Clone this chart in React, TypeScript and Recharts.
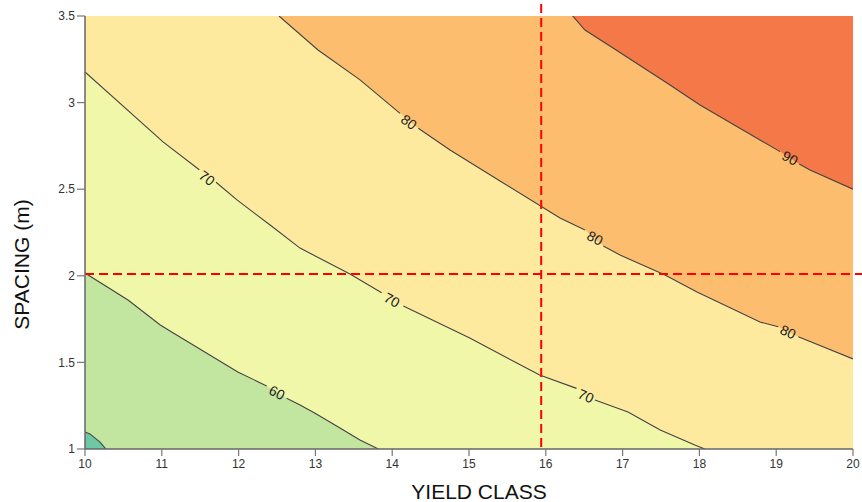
import { ComposedChart, Area, Line, Scatter, XAxis, YAxis, ReferenceLine, Label } from "recharts";

type Pt = { x: number; y: number | null };

const xTicks = [10, 11, 12, 13, 14, 15, 16, 17, 18, 19, 20];
const yTicks = [1, 1.5, 2, 2.5, 3, 3.5];

// contour lines; a null marks the gap left for a label
const contour55: Pt[] = [
  { x: 10, y: 1.098 },
  { x: 10.065, y: 1.087 },
  { x: 10.195, y: 1.04 },
  { x: 10.273, y: 1.0 },
];

const contour60: Pt[] = [
  { x: 10, y: 2.016 },
  { x: 10.56, y: 1.86 },
  { x: 10.98, y: 1.716 },
  { x: 11.15, y: 1.67 },
  { x: 11.99, y: 1.445 },
  { x: 12.366, y: 1.364 },
  { x: 12.5, y: null },
  { x: 12.625, y: 1.293 },
  { x: 12.8, y: 1.254 },
  { x: 12.99, y: 1.208 },
  { x: 13.32, y: 1.121 },
  { x: 13.58, y: 1.052 },
  { x: 13.82, y: 1.0 },
];

const contour70: Pt[] = [
  { x: 10, y: 3.177 },
  { x: 11.016, y: 2.773 },
  { x: 11.488, y: 2.612 },
  { x: 11.6, y: null },
  { x: 11.706, y: 2.54 },
  { x: 11.979, y: 2.438 },
  { x: 12.41, y: 2.293 },
  { x: 12.8, y: 2.16 },
  { x: 13.45, y: 2.01 },
  { x: 13.863, y: 1.902 },
  { x: 14.0, y: null },
  { x: 14.145, y: 1.826 },
  { x: 15.01, y: 1.641 },
  { x: 15.92, y: 1.427 },
  { x: 16.4, y: 1.35 },
  { x: 16.52, y: null },
  { x: 16.64, y: 1.283 },
  { x: 17.07, y: 1.214 },
  { x: 17.49, y: 1.11 },
  { x: 17.94, y: 1.023 },
  { x: 18.07, y: 1.0 },
];

const contour80: Pt[] = [
  { x: 12.526, y: 3.5 },
  { x: 13.034, y: 3.304 },
  { x: 13.581, y: 3.131 },
  { x: 14.102, y: 2.938 },
  { x: 14.22, y: null },
  { x: 14.34, y: 2.852 },
  { x: 14.753, y: 2.726 },
  { x: 15.404, y: 2.547 },
  { x: 16.185, y: 2.334 },
  { x: 16.51, y: 2.264 },
  { x: 16.64, y: null },
  { x: 16.749, y: 2.172 },
  { x: 16.966, y: 2.12 },
  { x: 17.552, y: 2.005 },
  { x: 17.969, y: 1.906 },
  { x: 18.789, y: 1.733 },
  { x: 19.027, y: 1.706 },
  { x: 19.15, y: null },
  { x: 19.288, y: 1.648 },
  { x: 20, y: 1.52 },
];

const contour90: Pt[] = [
  { x: 16.35, y: 3.5 },
  { x: 16.51, y: 3.419 },
  { x: 16.875, y: 3.315 },
  { x: 17.578, y: 3.113 },
  { x: 18.008, y: 2.986 },
  { x: 18.789, y: 2.784 },
  { x: 19.05, y: 2.717 },
  { x: 19.18, y: null },
  { x: 19.3, y: 2.645 },
  { x: 19.44, y: 2.611 },
  { x: 20, y: 2.5 },
];

const topLeft: Pt = { x: 10, y: 3.5 };
const topEdge: Pt[] = [topLeft, { x: 20, y: 3.5 }];

const contourLabels = [
  { x: 12.5, y: 1.326, angle: 27, text: "60" },
  { x: 11.589, y: 2.565, angle: 36, text: "70" },
  { x: 13.997, y: 1.86, angle: 28, text: "70" },
  { x: 16.523, y: 1.306, angle: 24, text: "70" },
  { x: 14.219, y: 2.888, angle: 36, text: "80" },
  { x: 16.641, y: 2.218, angle: 28, text: "80" },
  { x: 19.154, y: 1.676, angle: 24, text: "80" },
  { x: 19.18, y: 2.68, angle: 28, text: "90" },
];

const yieldClassMark = 15.94;
const spacingMark = 2.01;

const solid = (pts: Pt[]) => pts.filter((p) => p.y !== null);

// painted from the top band down, each one over the last
const bands = [
  { key: "b90", data: topEdge, fill: "#f57848" },
  { key: "b80", data: [topLeft, ...solid(contour90)], fill: "#fdbd6e" },
  { key: "b70", data: [topLeft, ...solid(contour80)], fill: "#feea9e" },
  { key: "b60", data: solid(contour70), fill: "#f1f7a8" },
  { key: "b55", data: solid(contour60), fill: "#c2e6a0" },
  { key: "b50", data: solid(contour55), fill: "#6ec8a5" },
];

const contours = [contour55, contour60, contour70, contour80, contour90];

const tickStyle = { fill: "#333", fontSize: 12 };

const ContourLabel = (props: any) => {
  const { cx, cy, payload } = props;
  if (cx == null || cy == null) return null;
  return (
    <text
      x={cx}
      y={cy}
      transform={`rotate(${payload.angle} ${cx} ${cy})`}
      textAnchor="middle"
      dominantBaseline="central"
      fontSize={14}
      fill="#222"
    >
      {payload.text}
    </text>
  );
};

const SpacingTitle = (props: any) => {
  const vb = props.viewBox || { x: 0, y: 0, width: 0, height: 0 };
  const x = vb.x + 21;
  const y = vb.y + vb.height / 2 + 32;
  return (
    <text
      x={x}
      y={y}
      transform={`rotate(-90 ${x} ${y})`}
      textAnchor="middle"
      dominantBaseline="central"
      fontSize={21}
      fill="#111"
    >
      SPACING (m)
    </text>
  );
};

export default function App() {
  return (
    <div style={{ position: "absolute", left: 0, top: 0, fontFamily: "'Liberation Sans', Arial, sans-serif" }}>
      <ComposedChart width={862} height={502} margin={{ top: 16, right: 9, bottom: 0, left: 0 }}>
        <XAxis
          dataKey="x"
          type="number"
          domain={[10, 20]}
          ticks={xTicks}
          allowDataOverflow
          height={53}
          tickSize={7}
          tickMargin={3}
          tick={tickStyle}
          axisLine={{ stroke: "#666", strokeWidth: 1.5 }}
          tickLine={{ stroke: "#777", strokeWidth: 1.2 }}
        >
          <Label value="YIELD CLASS" position="insideBottom" offset={3} dx={10} style={{ fontSize: 21, fill: "#111" }} />
        </XAxis>
        <XAxis
          xAxisId="top"
          orientation="top"
          dataKey="x"
          type="number"
          domain={[10, 20]}
          ticks={xTicks}
          height={0}
          tickSize={7}
          tickFormatter={() => ""}
          axisLine={{ stroke: "#777", strokeWidth: 1.5 }}
          tickLine={{ stroke: "#777", strokeWidth: 1.2 }}
        />
        <YAxis
          type="number"
          domain={[1, 3.5]}
          ticks={yTicks}
          allowDataOverflow
          width={85}
          tickSize={8}
          tickMargin={2}
          tick={tickStyle}
          axisLine={{ stroke: "#666", strokeWidth: 1.5 }}
          tickLine={{ stroke: "#777", strokeWidth: 1.2 }}
        >
          <Label content={SpacingTitle} />
        </YAxis>
        <YAxis
          yAxisId="right"
          orientation="right"
          type="number"
          domain={[1, 3.5]}
          ticks={yTicks}
          width={0}
          tickSize={8}
          tickFormatter={() => ""}
          axisLine={{ stroke: "#111", strokeWidth: 1 }}
          tickLine={{ stroke: "#888", strokeWidth: 1.2 }}
        />
        {bands.map((b) => (
          <Area
            key={b.key}
            data={b.data}
            dataKey="y"
            type="linear"
            baseValue={1}
            fill={b.fill}
            fillOpacity={1}
            stroke="none"
            isAnimationActive={false}
          />
        ))}
        {contours.map((c, i) => (
          <Line
            key={i}
            data={c}
            dataKey="y"
            type="linear"
            stroke="#444"
            strokeWidth={1.1}
            dot={false}
            activeDot={false}
            connectNulls={false}
            isAnimationActive={false}
          />
        ))}
        <Scatter data={contourLabels} dataKey="y" shape={ContourLabel} isAnimationActive={false} />
        <ReferenceLine
          segment={[
            { x: yieldClassMark, y: 3.57 },
            { x: yieldClassMark, y: 1 },
          ]}
          ifOverflow="visible"
          stroke="#ff0000"
          strokeWidth={2}
          strokeDasharray="9 5"
        />
        <ReferenceLine
          segment={[
            { x: 10, y: spacingMark },
            { x: 20.12, y: spacingMark },
          ]}
          ifOverflow="visible"
          stroke="#ff0000"
          strokeWidth={2}
          strokeDasharray="9 5"
        />
      </ComposedChart>
    </div>
  );
}
